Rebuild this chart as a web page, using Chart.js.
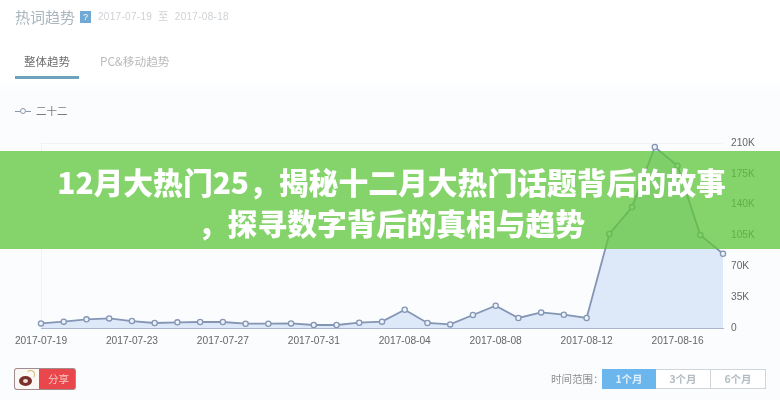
<!DOCTYPE html>
<html><head><meta charset="utf-8">
<script src="https://cdn.jsdelivr.net/npm/chart.js@4"></script>
<style>
html,body{margin:0;padding:0;background:#fff;}
#stage{position:relative;width:780px;height:400px;overflow:hidden;background:linear-gradient(#fff 0,#fff 78px,#fafcfe 95px,#fbfcfe 400px);font-family:"Noto Sans CJK SC","Liberation Sans",sans-serif;}
#stage canvas{position:absolute;left:0;top:0;filter:blur(.55px);}
.t{position:absolute;white-space:nowrap;filter:blur(.55px);}
#banner{position:absolute;left:0;top:151px;width:780px;height:98px;background:rgba(94,198,58,.75);}
.bt{position:absolute;left:0;width:783px;text-align:center;color:#fff;font-weight:900;font-size:29.8px;line-height:36px;}
</style></head><body>
<div id="stage">
<canvas id="c" width="780" height="400"></canvas>
<div class="t" style="left:15px;top:4px;font-size:15px;line-height:26px;color:#a9b6bd">热词趋势</div>
<div class="t" style="left:80px;top:11px;width:11px;height:12px;background:#6fa9d4;color:#fff;font:9px/12px 'Liberation Sans';text-align:center">?</div>
<div class="t" style="left:98px;top:10px;font:10px/14px 'Liberation Sans','Noto Sans CJK SC';color:#cdd2d6;letter-spacing:.3px">2017-07-19&nbsp;&nbsp;至&nbsp;&nbsp;2017-08-18</div>
<div class="t" style="left:24px;top:51px;font-size:11.5px;line-height:20px;color:#6d6d6d">整体趋势</div>
<div class="t" style="left:100px;top:51px;font-size:11.7px;line-height:20px;color:#b9b9b9">PC&amp;移动趋势</div>
<div class="t" style="left:15px;top:76px;width:64px;height:3px;background:#6fa3bd"></div>
<div class="t" style="left:15px;top:109px;width:5px;height:0;border-top:1px solid #8a97a8;margin-top:2px"></div>
<div class="t" style="left:20px;top:108px;width:4px;height:4px;border:1px solid #8a97a8;border-radius:50%"></div>
<div class="t" style="left:26px;top:109px;width:5px;height:0;border-top:1px solid #8a97a8;margin-top:2px"></div>
<div class="t" style="left:36px;top:102px;font-size:10.5px;line-height:17px;color:#7d7d7d">二十二</div>
<div class="t" style="left:15px;top:369px;width:60px;height:20px;border-radius:2px;background:#e9474b;box-shadow:0 0 0 1px #a08c8c"></div>
<div class="t" style="left:15px;top:369px;width:24px;height:20px;background:#fbf7f5;border-radius:2px 0 0 2px"></div>
<div class="t" style="left:19px;top:376px;width:13px;height:10px;border-radius:50%;background:#7a2f2a"></div>
<div class="t" style="left:23px;top:379px;width:5px;height:4px;border-radius:50%;background:#e9e0da"></div>
<div class="t" style="left:26px;top:370px;width:7px;height:7px;border-radius:50%;border:1.5px solid #d9b873;border-left-color:transparent;border-bottom-color:transparent;"></div>
<div class="t" style="left:48px;top:371px;font-size:10.5px;line-height:16px;color:#f6c9c6">分享</div>
<div class="t" style="left:551px;top:371px;font-size:10.5px;line-height:16px;color:#8f8f8f">时间范围：</div>
<div class="t" style="left:602px;top:369px;width:54px;height:20px;background:#6cb6ee;color:#dff0fc;font-size:10.5px;line-height:20px;text-align:center;font-weight:700">1个月</div>
<div class="t" style="left:656px;top:369px;width:54px;height:18px;border:1px solid #cfd5d8;border-left:0;background:#fff;color:#b4bcc1;font-size:10.5px;line-height:18px;text-align:center;font-weight:700">3个月</div>
<div class="t" style="left:711px;top:369px;width:54px;height:18px;border:1px solid #cfd5d8;border-left:0;background:#fff;color:#b4bcc1;font-size:10.5px;line-height:18px;text-align:center;font-weight:700">6个月</div>
<div id="banner">
<div class="bt" style="top:12px">12月大热门25，揭秘十二月大热门话题背后的故事</div>
<div class="bt" style="top:53px">，探寻数字背后的真相与趋势</div>
</div>
</div>
<script>
const categories=["2017-07-19","2017-07-20","2017-07-21","2017-07-22","2017-07-23","2017-07-24","2017-07-25","2017-07-26","2017-07-27","2017-07-28","2017-07-29","2017-07-30","2017-07-31","2017-08-01","2017-08-02","2017-08-03","2017-08-04","2017-08-05","2017-08-06","2017-08-07","2017-08-08","2017-08-09","2017-08-10","2017-08-11","2017-08-12","2017-08-13","2017-08-14","2017-08-15","2017-08-16","2017-08-17","2017-08-18"];
const seriesName="二十二";
const seriesValues=[5200,7200,9800,10900,7900,5700,6400,6800,6800,4900,4900,5200,3400,3400,6000,7200,20800,5700,4100,14800,25300,11400,17700,15100,11400,106700,137300,205400,184200,105600,84300];
const yTicks=[0,35000,70000,105000,140000,175000,210000];
Chart.defaults.animation=false;
new Chart(document.getElementById('c'),{
  type:'line',
  data:{labels:categories,datasets:[{label:seriesName,data:seriesValues,borderColor:'#8496b4',borderWidth:1.8,tension:0,fill:'origin',backgroundColor:'#dde8f9',pointRadius:2.6,pointBorderWidth:1.3,pointBackgroundColor:'#eef3fb',pointBorderColor:'#8496b4',clip:false}]},
  options:{responsive:false,animation:false,
    layout:{padding:{left:41,top:143,right:0,bottom:0}},
    plugins:{legend:{display:false},tooltip:{enabled:false}},
    scales:{
      x:{grid:{drawTicks:false,color:(c)=>c.index===0?'#eff2f6':'rgba(0,0,0,0)'},border:{color:'#a9b7cc',width:1},
        ticks:{autoSkip:false,maxRotation:0,padding:7,color:'#666',font:{family:'Liberation Sans',size:10.2},callback(v,i){return i%4===0?categories[i]:'';}},
        afterFit(s){s.height=72;}},
      y:{position:'right',min:0,max:210000,border:{display:false},grid:{drawTicks:false,color:(c)=>c.tick&&c.tick.value===210000?'#eff2f6':'rgba(0,0,0,0)'},
        afterBuildTicks(s){s.ticks=yTicks.map(v=>({value:v}));},
        ticks:{padding:8,color:'#666',font:{family:'Liberation Sans',size:10.2},callback(v){return v===0?'0':(v/1000)+'K';}},
        afterFit(s){s.width=57;}}
    }
  }
});
</script>
</body></html>
